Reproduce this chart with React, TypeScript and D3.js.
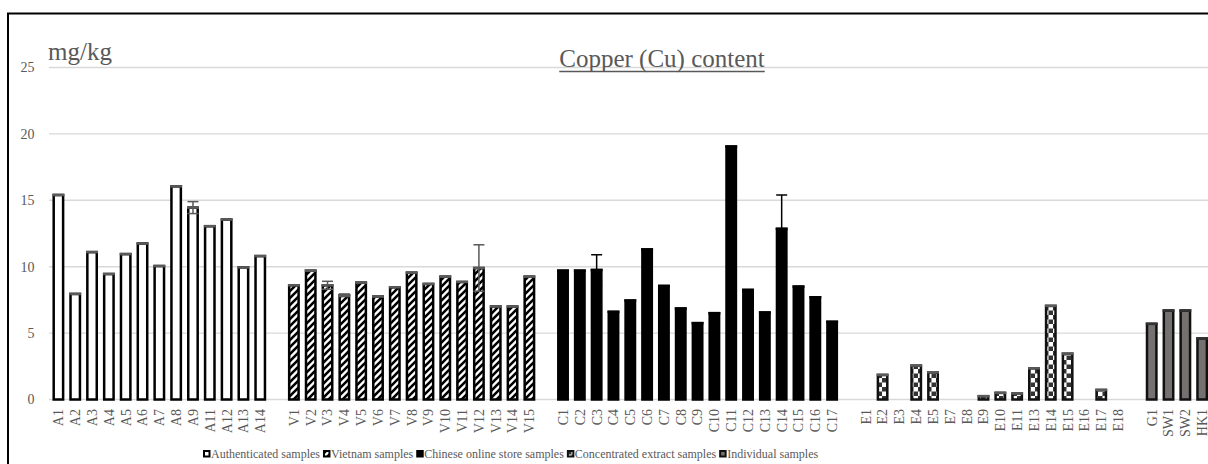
import React from "react";
import * as d3 from "d3";

const authLabels = ["A1","A2","A3","A4","A5","A6","A7","A8","A9","A11","A12","A13","A14"];
const authValues = [15.4, 7.95, 11.1, 9.45, 10.95, 11.75, 10.05, 16.05, 14.45, 13.05, 13.55, 9.95, 10.8];
const authErrors = [0,0,0,0,0,0,0,0,0.45,0,0,0,0];

const vietLabels = ["V1","V2","V3","V4","V5","V6","V7","V8","V9","V10","V11","V12","V13","V14","V15"];
const vietValues = [8.6, 9.7, 8.6, 7.85, 8.8, 7.75, 8.45, 9.55, 8.7, 9.25, 8.85, 9.9, 7.0, 7.0, 9.25];
const vietErrors = [0,0,0.3,0.1,0,0,0,0,0,0,0,1.75,0,0,0];

const chinaLabels = ["C1","C2","C3","C4","C5","C6","C7","C8","C9","C10","C11","C12","C13","C14","C15","C16","C17"];
const chinaValues = [9.7, 9.7, 9.75, 6.6, 7.45, 11.3, 8.55, 6.85, 5.75, 6.5, 19.05, 8.25, 6.55, 12.85, 8.5, 7.7, 5.85];
const chinaErrors = [0,0,1.15,0,0,0,0,0,0,0,0,0,0,2.55,0,0,0];

const extractLabels = ["E1","E2","E3","E4","E5","E7","E8","E9","E10","E11","E13","E14","E15","E16","E17","E18"];
const extractValues = [0, 1.85, 0, 2.55, 2.05, 0, 0, 0.25, 0.5, 0.45, 2.35, 7.05, 3.45, 0, 0.72, 0];
const extractErrors = [0,0,0,0,0,0,0,0,0,0,0,0,0,0,0,0];

const indivLabels = ["G1","SW1","SW2","HK1"];
const indivValues = [5.7, 6.7, 6.7, 4.6];
const indivErrors = [0,0,0,0];

const seriesNames = ["Authenticated samples","Vietnam samples","Chinese online store samples","Concentrated extract samples","Individual samples"];
const yTicks = [0,5,10,15,20,25];
const titleText = "Copper (Cu) content";
const unitText = "mg/kg";

const FONT = "'Liberation Serif', 'Times New Roman', Times, serif";
const TEXT = "#595959";
const GRID = "#d9d9d9";

const W = 1208, H = 464;
const plotLeft = 50, step = 16.82, nCats = 69;
const plotRight = plotLeft + nCats * step;
const yBottom = 399.5, yTop = 67.5;

function measure(text: string, size: number) {
  const c = document.createElement("canvas");
  const ctx = c.getContext("2d")!;
  ctx.font = `${size}px 'Liberation Serif'`;
  return ctx.measureText(text).width;
}

export default function App() {
  const groups = [
    { labels: authLabels, values: authValues, errors: authErrors, fill: "#ffffff", stroke: "#000", cap: "#595959", err: "#595959" },
    { labels: vietLabels, values: vietValues, errors: vietErrors, fill: "url(#diag)", stroke: "#000", cap: "#595959", err: "#595959" },
    { labels: chinaLabels, values: chinaValues, errors: chinaErrors, fill: "#000000", stroke: "#000", cap: "#000", err: "#000" },
    { labels: extractLabels, values: extractValues, errors: extractErrors, fill: "url(#check)", stroke: "#111", cap: "#595959", err: "#595959" },
    { labels: indivLabels, values: indivValues, errors: indivErrors, fill: "#767171", stroke: "#111", cap: "#333", err: "#333" },
  ];
  const categories: string[] = [];
  groups.forEach((g, gi) => {
    if (gi > 0) categories.push(`__gap${gi}`);
    g.labels.forEach((l) => categories.push(l));
  });
  const x = d3.scaleBand<string>().domain(categories).range([plotLeft, plotRight]).paddingInner(0.44).paddingOuter(0.22);
  const y = d3.scaleLinear().domain([0, 25]).range([yBottom, yTop]);
  const bw = x.bandwidth();

  const titleSize = 25;
  const titleW = measure(titleText, titleSize);
  const titleCx = 662;

  // legend layout
  const legSize = 12;
  let lx = 203;
  const legendItems = seriesNames.map((name, i) => {
    const item = { name, x: lx, g: groups[i] };
    lx += 8 + measure(name, legSize) + 3;
    return item;
  });

  return (
    <svg width={W} height={H} style={{ position: "absolute", left: 0, top: 0, background: "#fff" }} fontFamily={FONT}>
      <defs>
        <pattern id="diag" patternUnits="userSpaceOnUse" width="7" height="7">
          <rect width="7" height="7" fill="#fff" />
          <path d="M-2,2 L2,-2 M0,7 L7,0 M5,9 L9,5" stroke="#000" strokeWidth="2.6" />
        </pattern>
        <pattern id="check" patternUnits="userSpaceOnUse" width="9" height="9">
          <rect width="9" height="9" fill="#fff" />
          <rect width="4.5" height="4.5" fill="#333" />
          <rect x="4.5" y="4.5" width="4.5" height="4.5" fill="#333" />
        </pattern>
      </defs>
      <rect x={8} y={13.5} width={1400} height={800} fill="none" stroke="#000" strokeWidth={2} />
      {yTicks.map((t) => (
        <g key={t}>
          <line x1={49} x2={W} y1={y(t)} y2={y(t)} stroke={GRID} strokeWidth={1.4} />
          <text x={34.5} y={y(t) + 4.8} textAnchor="end" fontSize={14} fill={TEXT}>{t}</text>
        </g>
      ))}
      <text x={48} y={60} fontSize={25} fill={TEXT}>{unitText}</text>
      <text x={titleCx} y={66.5} fontSize={titleSize} fill={TEXT} textAnchor="middle">{titleText}</text>
      <line x1={titleCx - titleW / 2} x2={titleCx + titleW / 2} y1={71.5} y2={71.5} stroke={TEXT} strokeWidth={1.5} />
      {groups.map((g, gi) => (
        <g key={gi}>
          {g.values.map((v, i) => {
            const cx = x(g.labels[i])!;
            if (v <= 0) return null;
            return (
              <g key={i}>
                <rect x={cx} y={y(v)} width={bw} height={y(0) - y(v)} fill={g.fill} stroke={g.stroke} strokeWidth={2.5} />
                <line x1={cx - 1.25} x2={cx + bw + 1.25} y1={y(v)} y2={y(v)} stroke={g.cap} strokeWidth={2.5} />
              </g>
            );
          })}
          {g.values.map((v, i) => {
            const e = g.errors[i];
            if (!e) return null;
            const mx = x(g.labels[i])! + bw / 2;
            return (
              <g key={"e" + i} stroke={g.err} strokeWidth={1.5}>
                <line x1={mx} x2={mx} y1={y(v - e)} y2={y(v + e)} />
                <line x1={mx - 5.5} x2={mx + 5.5} y1={y(v + e)} y2={y(v + e)} />
                <line x1={mx - 5.5} x2={mx + 5.5} y1={y(v - e)} y2={y(v - e)} />
              </g>
            );
          })}
          {g.labels.map((l) => (
            <text key={l} transform={`translate(${x(l)! + bw / 2},409) rotate(-90)`} textAnchor="end" dy="0.35em" fontSize={14} fill={TEXT}>{l}</text>
          ))}
        </g>
      ))}
      {legendItems.map((it) => (
        <g key={it.name}>
          <rect x={it.x + 1} y={451} width={5.5} height={5.5} fill={it.g.fill} stroke={it.g.stroke} strokeWidth={2} />
          <text x={it.x + 8} y={458} fontSize={legSize} fill={TEXT}>{it.name}</text>
        </g>
      ))}
    </svg>
  );
}
